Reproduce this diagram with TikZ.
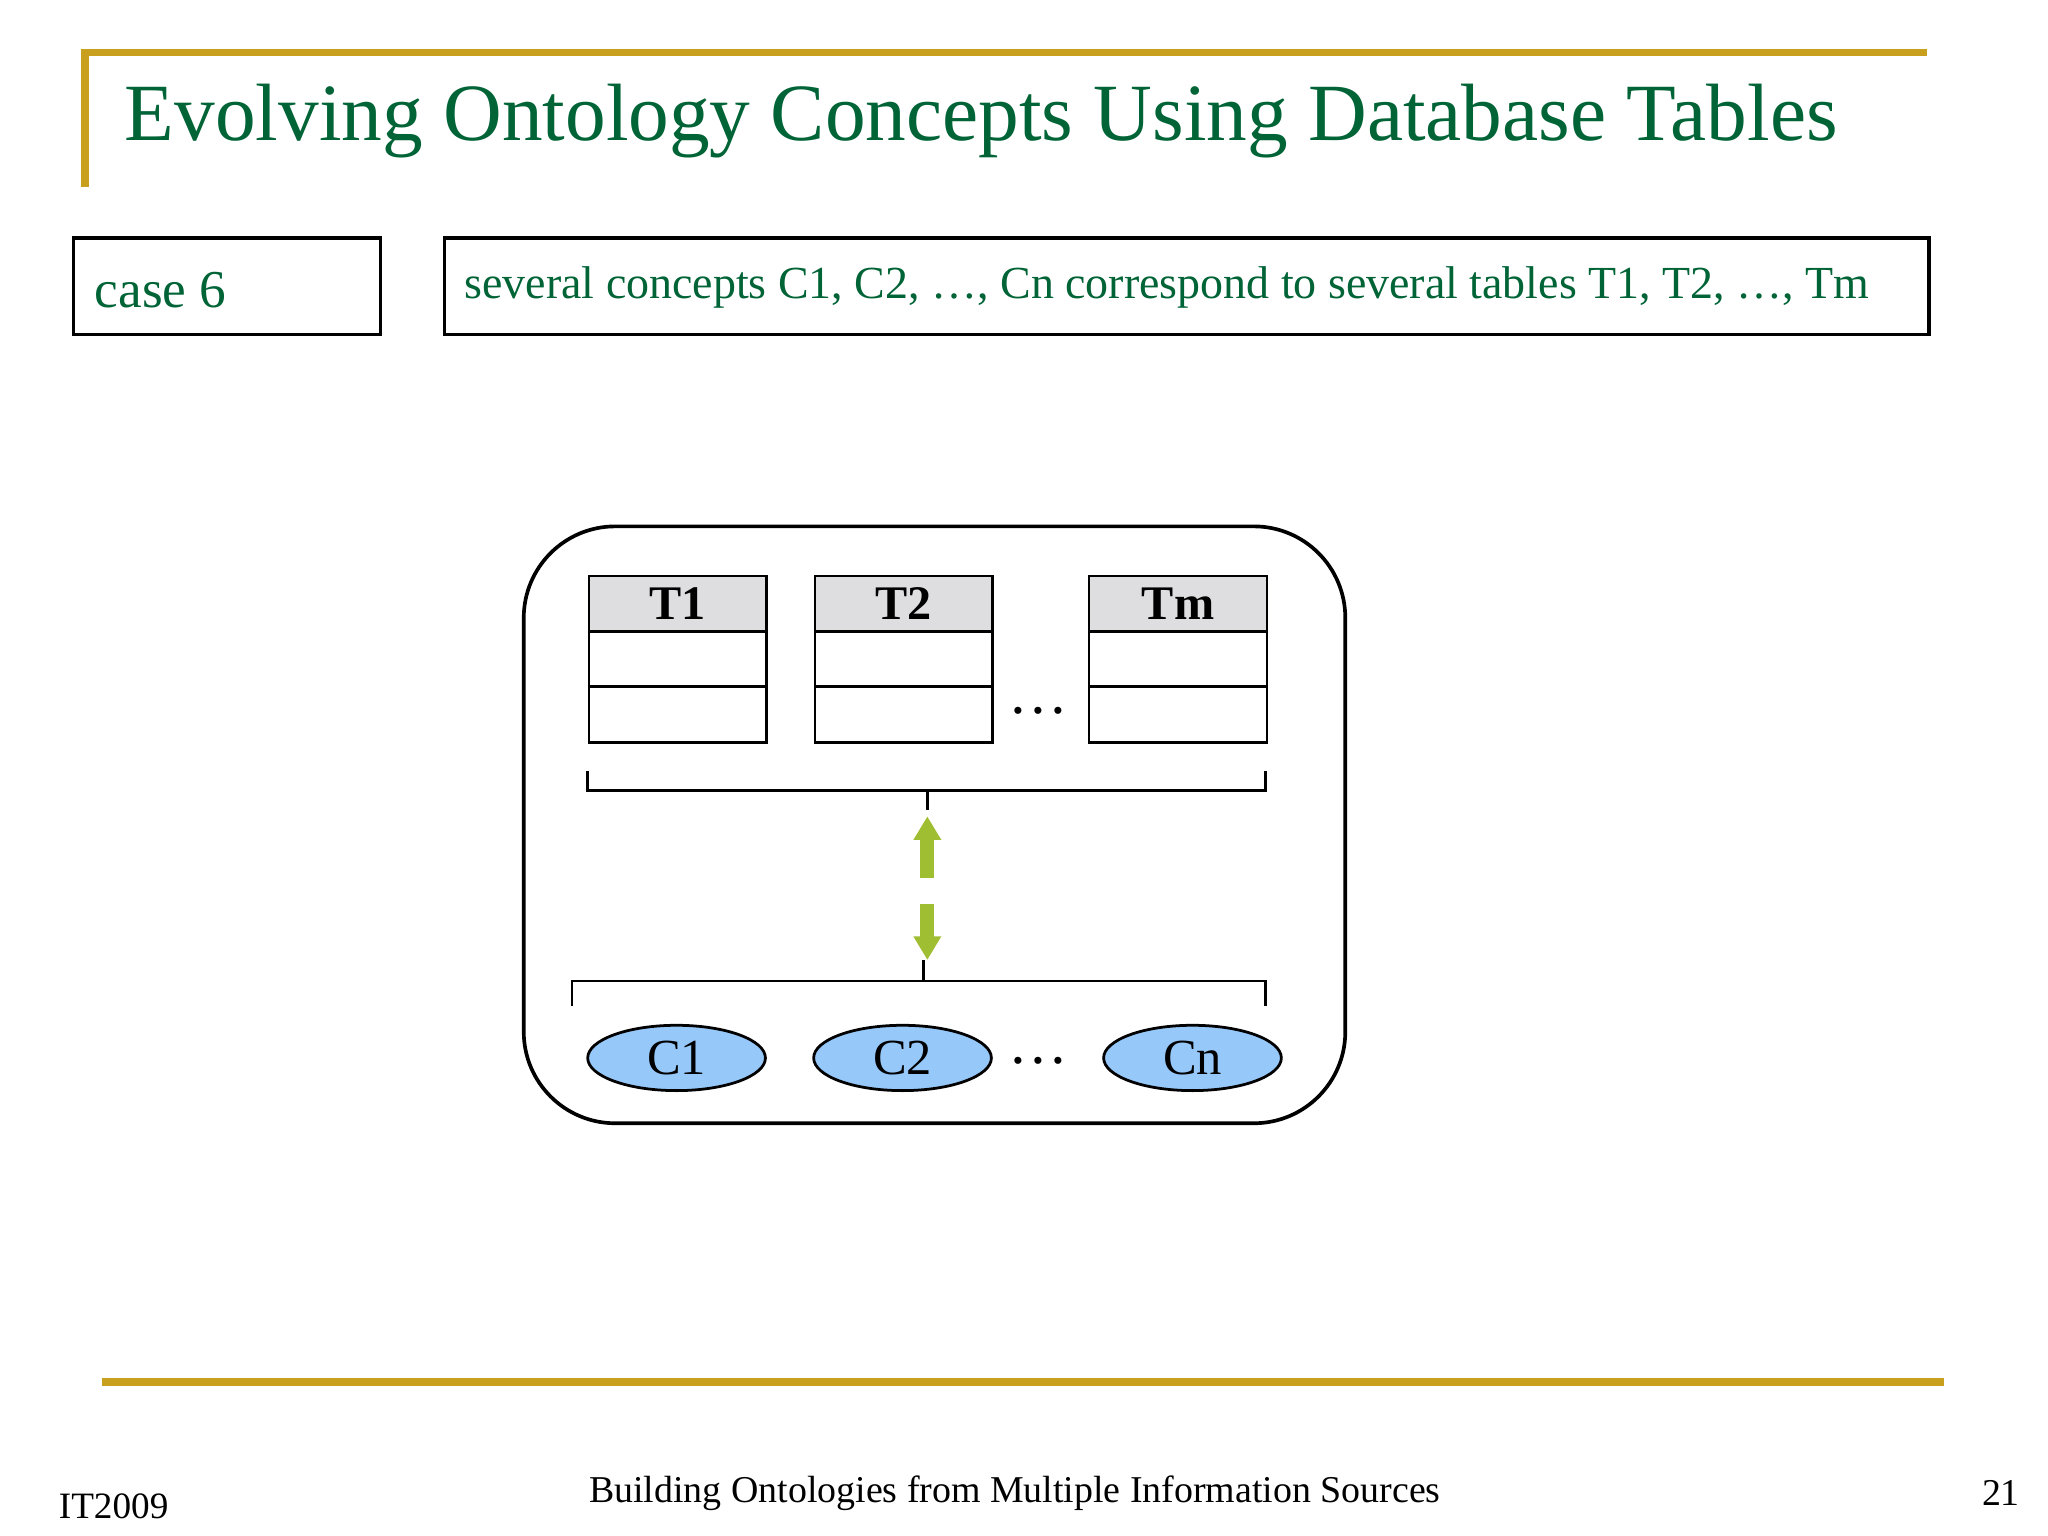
\documentclass[tikz,border=0pt]{standalone}
\usepackage{fontspec}
\setmainfont{Liberation Serif}
\usetikzlibrary{shapes.geometric,arrows.meta}
\definecolor{ttl}{RGB}{0,100,55}
\definecolor{gold}{RGB}{200,160,30}
\definecolor{hdr}{RGB}{222,222,224}
\definecolor{cblue}{RGB}{150,200,250}
\definecolor{agreen}{RGB}{160,190,50}
\tikzset{
 tcell/.style={draw,line width=0.5pt,minimum width=1.36cm,minimum height=0.425cm,inner sep=0,anchor=north west},
 conc/.style={ellipse,draw,line width=0.6pt,fill=cblue,minimum width=1.36cm,minimum height=0.5cm,inner sep=0,font=\fontsize{11}{13}\selectfont},
 gl/.style={gold,line width=1.6pt}
}
\begin{document}
\begin{tikzpicture}[x=0.01cm,y=-0.01cm]
\useasboundingbox (0,0) rectangle (1568,1176);
\fill[white] (0,0) rectangle (1568,1176);
\draw[gl] (65,143) -- (65,40) -- (1475,40);
\draw[gl] (78,1058) -- (1488,1058);
\node[ttl,anchor=west,inner sep=0,font=\fontsize{17.7}{20}\selectfont] (title) at (95,93) {Evolving Ontology Concepts Using Database Tables};
\node[draw,line width=0.7pt,minimum width=2.35cm,minimum height=0.74cm,anchor=north west] (cbox) at (55,181) {};
\node[ttl,anchor=west,inner sep=0,font=\fontsize{11.6}{14}\selectfont] (ctext) at (72,222) {case 6};
\node[draw,line width=0.7pt,minimum width=11.36cm,minimum height=0.74cm,anchor=north west] (dbox) at (339,181) {};
\node[ttl,anchor=west,inner sep=0,font=\fontsize{10}{12}\selectfont] (dtext) at (355,220) {several concepts C1, C2, \dots, Cn correspond to several tables T1, T2, \dots, Tm};
\draw[line width=0.8pt,rounded corners=0.7cm] (401,403) rectangle (1030,860);
\foreach \x/\n/\l in {450/a/T1,623/b/T2,833/c/Tm}{
 \node[tcell,fill=hdr,font=\fontsize{10.5}{13}\selectfont\bfseries] (\n h) at (\x,440) {\l};
 \node[tcell] (\n r1) at (\x,482) {};
 \node[tcell] (\n r2) at (\x,525) {};
}
\node[font=\fontsize{13}{14}\selectfont] (td) at (795,544) {\dots};
\coordinate (tl) at (450,590); \coordinate (tr) at (969,590);
\coordinate (tm) at (710,605); \coordinate (ts) at (710,620);
\draw[line width=0.6pt] (tl) -- (450,605) -- (969,605) -- (tr);
\draw[line width=0.6pt] (tm) -- (ts);
\coordinate (bl) at (438,770); \coordinate (br) at (969,770);
\coordinate (bm) at (707,751); \coordinate (bs) at (707,735);
\draw[line width=0.6pt] (bl) -- (438,751) -- (969,751) -- (br);
\draw[line width=0.6pt] (bm) -- (bs);
\coordinate (a1) at (710,625); \coordinate (a2) at (710,735);
\draw[agreen,line width=3pt,dash pattern=on 0.3cm off 0.2cm,{Triangle[length=0.18cm,width=0.2cm]}-{Triangle[length=0.18cm,width=0.2cm]}] (a1) -- (a2);
\node[conc] (c1) at (518,810) {C1};
\node[conc] (c2) at (691,810) {C2};
\node[conc] (cn) at (913,810) {Cn};
\node[font=\fontsize{13}{14}\selectfont] (cd) at (795,812) {\dots};
\node[font=\fontsize{8.1}{10}\selectfont] (f1) at (87,1153) {IT2009};
\node[font=\fontsize{8.25}{10}\selectfont] (f2) at (777,1143) {Building Ontologies from Multiple Information Sources};
\node[font=\fontsize{8.25}{10}\selectfont] (f3) at (1532,1143) {21};
\end{tikzpicture}
\end{document}
